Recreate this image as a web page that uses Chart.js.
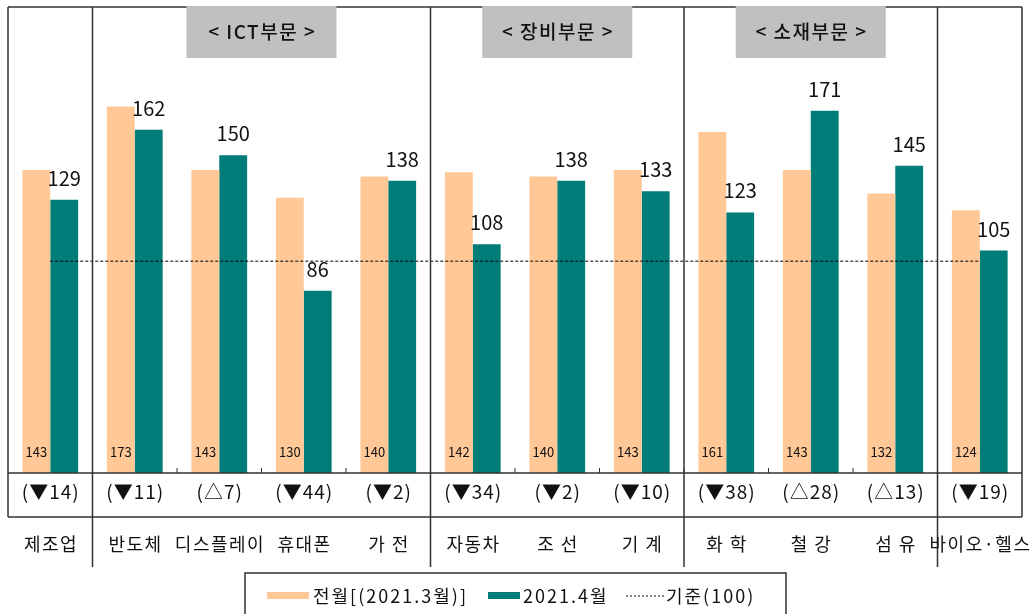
<!DOCTYPE html>
<html>
<head>
<meta charset="utf-8">
<script src="https://cdn.jsdelivr.net/npm/chart.js@4"></script>
<style>
  html, body { margin: 0; padding: 0; background: #fff; }
</style>
</head>
<body>
<canvas id="grafico" width="1036" height="614"></canvas>
<script>
var categorias = ['제조업', '반도체', '디스플레이', '휴대폰', '가 전', '자동차', '조 선', '기 계', '화 학', '철 강', '섬 유', '바이오·헬스'];
var valoresMarco = [143, 173, 143, 130, 140, 142, 140, 143, 161, 143, 132, 124];
var valoresAbril = [129, 162, 150, 86, 138, 108, 138, 133, 123, 171, 145, 105];
var variacao = ['(▼14)', '(▼11)', '(△7)', '(▼44)', '(▼2)', '(▼34)', '(▼2)', '(▼10)', '(▼38)', '(△28)', '(△13)', '(▼19)'];
var linhaBase = [100, 100, 100, 100, 100, 100, 100, 100, 100, 100, 100, 100];

var gruposNomes = ['< ICT부문 >', '< 장비부문 >', '< 소재부문 >'];
var gruposInicio = [1, 5, 8];
var gruposFim = [4, 7, 10];
var separadores = [0, 4, 7, 10];   // linha vertical depois destes indices

var corMarco = '#FFC896';
var corAbril = '#007D78';
var fonte = '"Noto Sans CJK KR", "Noto Sans", sans-serif';

function texto(ctx, t, x, y, espaco){
  // centraliza mesmo com letterSpacing
  ctx.letterSpacing = espaco + 'px';
  ctx.fillText(t, x + espaco / 2, y);
  ctx.letterSpacing = '0px';
}

var molduraPlugin = {
  id: 'moldura',
  afterDraw: function(chart){
    var ctx = chart.ctx;
    var sx = chart.scales.x;
    var sy = chart.scales.y;
    var area = chart.chartArea;
    var esq = area.left, dir = area.right, topo = area.top;
    var base = sy.getPixelForValue(0);
    var larg = sx.getPixelForValue(1) - sx.getPixelForValue(0);
    var fimTabela = base + 44;
    var fimSep = base + 94;

    ctx.save();
    ctx.strokeStyle = '#333';
    ctx.lineWidth = 1.5;
    ctx.beginPath();
    ctx.moveTo(esq, topo); ctx.lineTo(dir, topo);
    ctx.moveTo(esq, topo); ctx.lineTo(esq, fimTabela);
    ctx.moveTo(dir, topo); ctx.lineTo(dir, fimTabela);
    ctx.moveTo(esq, base); ctx.lineTo(dir, base);
    ctx.moveTo(esq, fimTabela); ctx.lineTo(dir, fimTabela);
    separadores.forEach(function(i){
      var px = sx.getPixelForValue(i) + larg / 2;
      ctx.moveTo(px, topo); ctx.lineTo(px, fimSep);
    });
    ctx.stroke();

    // tracinhos no eixo
    ctx.lineWidth = 1;
    ctx.beginPath();
    for (var i = 1; i < categorias.length; i++) {
      var tx = sx.getPixelForValue(i) - larg / 2;
      ctx.moveTo(tx, base); ctx.lineTo(tx, base - 5);
    }
    ctx.stroke();

    // caixas cinzas dos grupos
    ctx.textAlign = 'center';
    ctx.textBaseline = 'middle';
    for (var g = 0; g < gruposNomes.length; g++) {
      var cx = (sx.getPixelForValue(gruposInicio[g]) + sx.getPixelForValue(gruposFim[g])) / 2;
      ctx.fillStyle = '#C0C0C0';
      ctx.fillRect(cx - 75, topo - 1, 150, 52);
      ctx.fillStyle = '#111';
      ctx.font = '500 19px ' + fonte;
      texto(ctx, gruposNomes[g], cx, topo + 25, 1.5);
    }

    // rotulos das barras
    var metaMarco = chart.getDatasetMeta(0);
    var metaAbril = chart.getDatasetMeta(1);
    ctx.fillStyle = '#111';
    ctx.font = '13px ' + fonte;
    metaMarco.data.forEach(function(bar, i){
      ctx.fillText(valoresMarco[i], bar.x, base - 21);
    });
    ctx.font = '20px ' + fonte;
    ctx.textBaseline = 'alphabetic';
    metaAbril.data.forEach(function(bar, i){
      ctx.fillText(valoresAbril[i], bar.x, bar.y - 14);
    });

    // linha de variacao e categorias
    ctx.textBaseline = 'middle';
    for (var k = 0; k < categorias.length; k++) {
      var px = sx.getPixelForValue(k);
      ctx.font = '19px ' + fonte;
      texto(ctx, variacao[k], px, base + 19, 1);
      ctx.font = '18px ' + fonte;
      texto(ctx, categorias[k], px, base + 71, 1.5);
    }

    // legenda
    ctx.strokeStyle = '#333';
    ctx.lineWidth = 1.5;
    ctx.strokeRect(245, 573, 541, 50);
    ctx.textAlign = 'left';
    ctx.font = '18px ' + fonte;
    ctx.letterSpacing = '2px';
    ctx.fillStyle = corMarco;
    ctx.fillRect(267, 592, 42, 7);
    ctx.fillStyle = '#111';
    ctx.fillText(chart.data.datasets[0].label, 313, 596);
    ctx.fillStyle = corAbril;
    ctx.fillRect(488, 592, 32, 7);
    ctx.fillStyle = '#111';
    ctx.fillText(chart.data.datasets[1].label, 523, 596);
    ctx.strokeStyle = '#000';
    ctx.lineWidth = 1;
    ctx.setLineDash([2, 2]);
    ctx.beginPath();
    ctx.moveTo(626, 596); ctx.lineTo(664, 596);
    ctx.stroke();
    ctx.setLineDash([]);
    ctx.fillText(chart.data.datasets[2].label, 666, 596);
    ctx.letterSpacing = '0px';
    ctx.restore();
  }
};

new Chart(document.getElementById('grafico'), {
  type: 'bar',
  data: {
    labels: categorias,
    datasets: [
      {
        label: '전월[(2021.3월)]',
        data: valoresMarco,
        backgroundColor: corMarco,
        order: 2
      },
      {
        label: '2021.4월',
        data: valoresAbril,
        backgroundColor: corAbril,
        order: 2
      },
      {
        type: 'line',
        label: '기준(100)',
        data: linhaBase,
        borderColor: '#000',
        borderWidth: 1,
        borderDash: [3, 2],
        pointRadius: 0,
        fill: false,
        order: 1
      }
    ]
  },
  options: {
    responsive: false,
    animation: false,
    layout: { padding: { left: 8, right: 14, top: 7, bottom: 141 } },
    datasets: { bar: { categoryPercentage: 0.66, barPercentage: 1.0 } },
    plugins: { legend: { display: false }, tooltip: { enabled: false } },
    scales: {
      x: { display: false },
      y: { display: false, min: 0, max: 220 }
    }
  },
  plugins: [molduraPlugin]
});
</script>
</body>
</html>
